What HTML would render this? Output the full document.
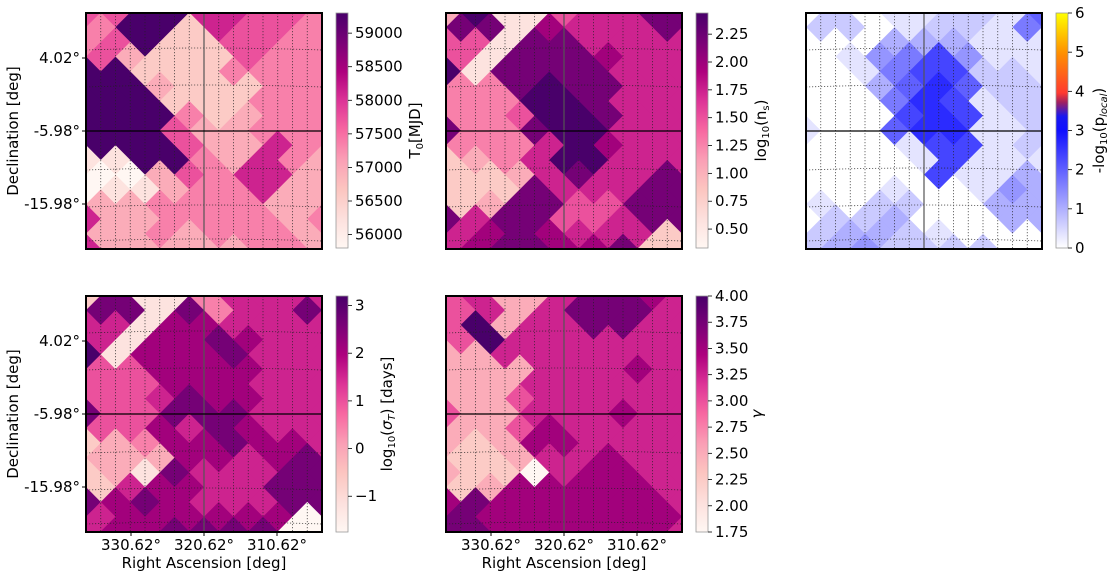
<!DOCTYPE html>
<html><head><meta charset="utf-8"><style>
body{margin:0;background:#fff;}
svg{display:block;font-family:"DejaVu Sans","Liberation Sans",sans-serif;}
</style></head><body>
<svg id="fig" width="1110" height="578" viewBox="0 0 1110 578">
<defs>
<linearGradient id="gRdPu" x1="0" y1="1" x2="0" y2="0">
<stop offset="0" stop-color="#fff7f3"/><stop offset="0.125" stop-color="#fde0dd"/><stop offset="0.25" stop-color="#fcc5c0"/><stop offset="0.375" stop-color="#fa9fb5"/><stop offset="0.5" stop-color="#f768a1"/><stop offset="0.625" stop-color="#dd3497"/><stop offset="0.75" stop-color="#ae017e"/><stop offset="0.875" stop-color="#7a0177"/><stop offset="1" stop-color="#49006a"/>
</linearGradient>
<linearGradient id="gP" x1="0" y1="1" x2="0" y2="0">
<stop offset="0" stop-color="#ffffff"/><stop offset="0.5" stop-color="#1010ff"/><stop offset="0.56" stop-color="#1818f0"/><stop offset="0.62" stop-color="#a02060"/><stop offset="0.66" stop-color="#ff3a30"/><stop offset="0.83" stop-color="#ff9000"/><stop offset="1" stop-color="#ffff00"/>
</linearGradient>
</defs>
</svg>
<script>
// ---- data: rows of level digits (0 lightest .. 9 darkest) on diamond lattice ----
const t0Rows = ["559966554","49926554","459225544","53222544","992224444","99322244","999222444","99942344","999533444","99953364","119943643","00354663","011344633","33444433","633444434","33434443","633333443"];
const nsRows = ["391156688","88176668","551886666","51888766","918888666","44898866","444998666","44599866","844899666","44469766","234699666","22368668","222866688","23885588","868855688","67876662","678877822"];
const pRows  = ["020112216","22012215","000333111","01457411","001577221","00368622","000587122","00078712","100688112","00017712","000017111","00007113","000100143","10220033","022300033","23321000","234222200"];
const sigRows= ["281146666","88184668","661776666","61778766","917778666","55777766","555777666","55687766","855888666","55768766","234778776","33377678","231866688","26776688","878766688","67777770","677888800"];
const gamRows= ["563368876","56368886","593668866","59666666","336666666","33366676","333666666","33566666","533666766","33576666","323776666","22366766","322067766","23777776","787777776","87777777","887777776"];
const cb1Ticks = ["59000","58500","58000","57500","57000","56500","56000"];
const cb1Vals = [59000,58500,58000,57500,57000,56500,56000];
const cb2Ticks = ["2.25","2.00","1.75","1.50","1.25","1.00","0.75","0.50"];
const cb2Vals = [2.25,2.0,1.75,1.5,1.25,1.0,0.75,0.5];
const cb3Ticks = ["6","5","4","3","2","1","0"];
const cb3Vals = [6,5,4,3,2,1,0];
const cb4Ticks = ["3","2","1","0","\u22121"];
const cb4Vals = [3,2,1,0,-1];
const cb5Ticks = ["4.00","3.75","3.50","3.25","3.00","2.75","2.50","2.25","2.00","1.75"];
const cb5Vals = [4,3.75,3.5,3.25,3,2.75,2.5,2.25,2,1.75];
const decTicks = ["4.02°","-5.98°","-15.98°"];
const raTicks = ["330.62°","320.62°","310.62°"];

const NS="http://www.w3.org/2000/svg";
const svg=document.getElementById('fig');
const FS=15;
function el(t,a,p){const e=document.createElementNS(NS,t);for(const k in a)e.setAttribute(k,a[k]);(p||svg).appendChild(e);return e;}
const RDPU=["#fff7f3","#fde0dd","#fcc5c0","#fa9fb5","#f768a1","#dd3497","#ae017e","#7a0177","#49006a"];
function hex(h){return [1,3,5].map(i=>parseInt(h.substr(i,2),16));}
function lerpStops(stops,t){t=Math.max(0,Math.min(1,t));const s=t*(stops.length-1);const i=Math.min(stops.length-2,Math.floor(s));const f=s-i;const a=hex(stops[i]),b=hex(stops[i+1]);return "rgb("+a.map((v,k)=>Math.round(v+(b[k]-v)*f)).join(",")+")";}
const rdpu=L=>lerpStops(RDPU,L/9);
const blue=L=>lerpStops(["#ffffff","#1010ff"],L/9);

const S=236;
function panel(id,x0,y0,rows,cmap){
  const g=el('g',{});
  
  
  const cp=el('clipPath',{id:'c'+id},svg);el('rect',{x:x0,y:y0,width:S,height:S},cp);
  g.setAttribute('clip-path','url(#c'+id+')');
  const d=S/8,h=d/2;
  const xs=(r,c)=>x0+(c+(r%2?0.5:0))*d;
  const ys=r=>y0+r*h;
  rows.forEach((row,r)=>{for(let c=0;c<row.length;c++){const L=+row[c];const cx=xs(r,c),cy=ys(r),hh=h+0.6;
    const p=el('polygon',{points:`${cx},${cy-hh} ${cx+hh},${cy} ${cx},${cy+hh} ${cx-hh},${cy}`,fill:cmap(L)},g);
    
    
  }});
  const gg=el('g',{stroke:'#222','stroke-width':0.8,'stroke-dasharray':'1.2,1.8',fill:'none',opacity:0.8});
  
  
  for(let i=1;i<16;i++){if(i==8)continue;el('line',{x1:x0+i*S/16,y1:y0,x2:x0+i*S/16,y2:y0+S},gg);}
  [35,72,155,192,226].forEach(v=>el('path',{d:`M${x0},${y0+v+2} Q${x0+S/2},${y0+v-2} ${x0+S},${y0+v+2}`},gg));
  el('line',{x1:x0+S/2,y1:y0,x2:x0+S/2,y2:y0+S,stroke:'#555','stroke-width':1.2});
  el('line',{x1:x0,y1:y0+S/2,x2:x0+S,y2:y0+S/2,stroke:'#000','stroke-width':1.2});
  const fr=el('rect',{x:x0,y:y0,width:S,height:S,fill:'none',stroke:'#000','stroke-width':2});
  
  
}
function cbar(id,x,y0,h,grad,vals,labels,vmin,vmax,title){
  const r=el('rect',{x:x,y:y0,width:12,height:h,fill:'url(#'+grad+')',stroke:'#999','stroke-width':0.8});
  
  
  vals.forEach((v,i)=>{const yy=y0+h*(vmax-v)/(vmax-vmin);
    el('line',{x1:x+12,y1:yy,x2:x+16,y2:yy,stroke:'#000','stroke-width':0.8});
    const t=el('text',{x:x+19,y:yy+5,'font-size':FS,fill:'#000'});t.textContent=labels[i];
    
    
  });
  const tx=x+(title.dx||0),ty=y0+h/2;
  const t=el('text',{x:tx,y:ty,'font-size':FS,'text-anchor':'middle',transform:`rotate(-90 ${tx} ${ty})`});
  t.innerHTML=title.html;
  
  
}
function yaxis(x0,y0){
  decTicks.forEach((s,i)=>{const yy=y0+45+i*73;
    el('line',{x1:x0-4,y1:yy,x2:x0,y2:yy,stroke:'#000'});
    const t=el('text',{x:x0-6,y:yy+5,'font-size':FS,'text-anchor':'end'});t.textContent=s;
    
    });
  const t=el('text',{x:18,y:y0+S/2,'font-size':FS,'text-anchor':'middle',transform:`rotate(-90 18 ${y0+S/2})`});t.textContent='Declination [deg]';
  
  
}
function xaxis(x0,y0){
  raTicks.forEach((s,i)=>{const xx=x0+45+i*73;
    el('line',{x1:xx,y1:y0+S,x2:xx,y2:y0+S+4,stroke:'#000'});
    const t=el('text',{x:xx,y:y0+S+18,'font-size':FS,'text-anchor':'middle'});t.textContent=s;
    
    });
  const t=el('text',{x:x0+S/2,y:y0+S+36,'font-size':FS,'text-anchor':'middle'});t.textContent='Right Ascension [deg]';
  
  
}
panel('t0',86,13,t0Rows,rdpu);
panel('ns',446,13,nsRows,rdpu);
panel('plocal',806,13,pRows,blue);
panel('sigma',86,296,sigRows,rdpu);
panel('gamma',446,296,gamRows,rdpu);
yaxis(86,13);yaxis(86,296);xaxis(86,296);xaxis(446,296);
cbar('t0',336,13,235,'gRdPu',cb1Vals,cb1Ticks,55800,59300,{dx:84,html:'T<tspan font-size="10" dy="3">0</tspan><tspan dy="-3">[MJD]</tspan>'});
cbar('ns',696,13,235,'gRdPu',cb2Vals,cb2Ticks,0.33,2.44,{dx:70,html:'log<tspan font-size="10" dy="3">10</tspan><tspan dy="-3">(n</tspan><tspan font-size="10" dy="3">s</tspan><tspan dy="-3">)</tspan>'});
cbar('plocal',1056,13,235,'gP',cb3Vals,cb3Ticks,0,6,{dx:48,html:'-log<tspan font-size="10" dy="3">10</tspan><tspan dy="-3">(p</tspan><tspan font-size="10" font-style="italic" dy="3">local</tspan><tspan dy="-3">)</tspan>'});
cbar('sigma',336,296,236,'gRdPu',cb4Vals,cb4Ticks,-1.75,3.2,{dx:56,html:'log<tspan font-size="10" dy="3">10</tspan><tspan dy="-3">(</tspan><tspan font-style="italic">σ</tspan><tspan font-size="10" font-style="italic" dy="3">T</tspan><tspan dy="-3">) [days]</tspan>'});
cbar('gamma',696,296,236,'gRdPu',cb5Vals,cb5Ticks,1.75,4.0,{dx:66,html:'<tspan font-style="italic">γ</tspan>'});
</script>
</body></html>
